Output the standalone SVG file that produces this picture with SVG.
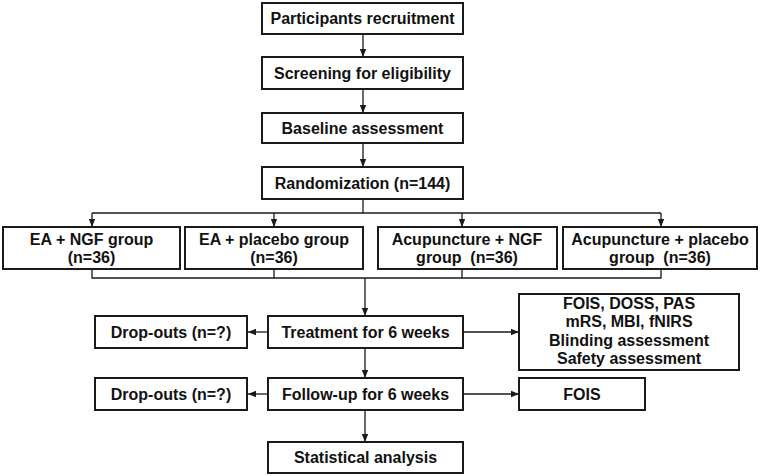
<svg xmlns="http://www.w3.org/2000/svg" width="767" height="476" viewBox="0 0 767 476">
<style>
.box{fill:#fff;stroke:#1a1a1a;stroke-width:2}
.t{font-family:"Liberation Sans",Arial,sans-serif;font-weight:bold;font-size:16px;fill:#111;text-anchor:middle;dominant-baseline:central}
.c{fill:none;stroke:#1a1a1a;stroke-width:1.3}
</style>
<defs>
<marker id="ah" viewBox="0 0 8 8" refX="8" refY="4" markerWidth="8" markerHeight="8" markerUnits="userSpaceOnUse" orient="auto">
<path d="M0,0.8 L8,4 L0,7.2 Z" fill="#1a1a1a"/>
</marker>
</defs>
<rect width="767" height="476" fill="#fff"/>
<g id="connectors">
<line class="c" x1="363" y1="34" x2="363" y2="57" marker-end="url(#ah)"/>
<line class="c" x1="363" y1="89" x2="363" y2="113" marker-end="url(#ah)"/>
<line class="c" x1="363" y1="143" x2="363" y2="167" marker-end="url(#ah)"/>
<polyline class="c" points="363,199 363,213"/>
<polyline class="c" points="92,213 661,213"/>
<line class="c" x1="92" y1="213" x2="92" y2="227" marker-end="url(#ah)"/>
<line class="c" x1="274" y1="213" x2="274" y2="227" marker-end="url(#ah)"/>
<line class="c" x1="462" y1="213" x2="462" y2="227" marker-end="url(#ah)"/>
<line class="c" x1="661" y1="213" x2="661" y2="227" marker-end="url(#ah)"/>
<polyline class="c" points="92,269 92,278 661,278 661,269"/>
<polyline class="c" points="274,269 274,278"/>
<polyline class="c" points="462,269 462,278"/>
<line class="c" x1="365" y1="278" x2="365" y2="316" marker-end="url(#ah)"/>
<line class="c" x1="268" y1="332" x2="248" y2="332" marker-end="url(#ah)"/>
<line class="c" x1="463" y1="332" x2="519" y2="332" marker-end="url(#ah)"/>
<line class="c" x1="365" y1="348" x2="365" y2="378" marker-end="url(#ah)"/>
<line class="c" x1="268" y1="394" x2="248" y2="394" marker-end="url(#ah)"/>
<line class="c" x1="463" y1="394" x2="519" y2="394" marker-end="url(#ah)"/>
<line class="c" x1="365" y1="410" x2="365" y2="442" marker-end="url(#ah)"/>
</g>
<g id="recruit"><rect class="box" x="262" y="3" width="201" height="31"/><text class="t" x="362.5" y="18.5">Participants recruitment</text></g>
<g id="screening"><rect class="box" x="262" y="57" width="201" height="32"/><text class="t" x="362.5" y="73">Screening for eligibility</text></g>
<g id="baseline"><rect class="box" x="262" y="113" width="201" height="30"/><text class="t" x="362.5" y="128">Baseline assessment</text></g>
<g id="random"><rect class="box" x="262" y="167" width="201" height="32"/><text class="t" x="362.5" y="183">Randomization (n=144)</text></g>
<g id="g1"><rect class="box" x="3" y="227" width="177" height="42"/><text class="t" x="91.5" y="239">EA + NGF group</text><text class="t" x="91.5" y="257">(n=36)</text></g>
<g id="g2"><rect class="box" x="185" y="227" width="178" height="42"/><text class="t" x="274" y="239">EA + placebo group</text><text class="t" x="274" y="257">(n=36)</text></g>
<g id="g3"><rect class="box" x="378" y="227" width="179" height="42"/><text class="t" x="467" y="239">Acupuncture + NGF</text><text class="t" x="467" y="257" xml:space="preserve">group  (n=36)</text></g>
<g id="g4"><rect class="box" x="563" y="227" width="194" height="42"/><text class="t" x="660" y="239">Acupuncture + placebo</text><text class="t" x="660" y="257" xml:space="preserve">group  (n=36)</text></g>
<g id="drop1"><rect class="box" x="95" y="316" width="152" height="32"/><text class="t" x="171" y="332">Drop-outs (n=?)</text></g>
<g id="treat"><rect class="box" x="268" y="316" width="195" height="32"/><text class="t" x="365.5" y="332">Treatment for 6 weeks</text></g>
<g id="outcomes"><rect class="box" x="519" y="294" width="220" height="76"/><text class="t" x="629" y="303">FOIS, DOSS, PAS</text><text class="t" x="629" y="321.5">mRS, MBI, fNIRS</text><text class="t" x="629" y="340">Blinding assessment</text><text class="t" x="629" y="358.5">Safety assessment</text></g>
<g id="drop2"><rect class="box" x="95" y="378" width="152" height="32"/><text class="t" x="171" y="394">Drop-outs (n=?)</text></g>
<g id="follow"><rect class="box" x="268" y="378" width="195" height="32"/><text class="t" x="365.5" y="394">Follow-up for 6 weeks</text></g>
<g id="fois"><rect class="box" x="519" y="378" width="126" height="32"/><text class="t" x="582" y="394">FOIS</text></g>
<g id="stats"><rect class="box" x="268" y="442" width="195" height="31"/><text class="t" x="365.5" y="457.5">Statistical analysis</text></g>
</svg>
